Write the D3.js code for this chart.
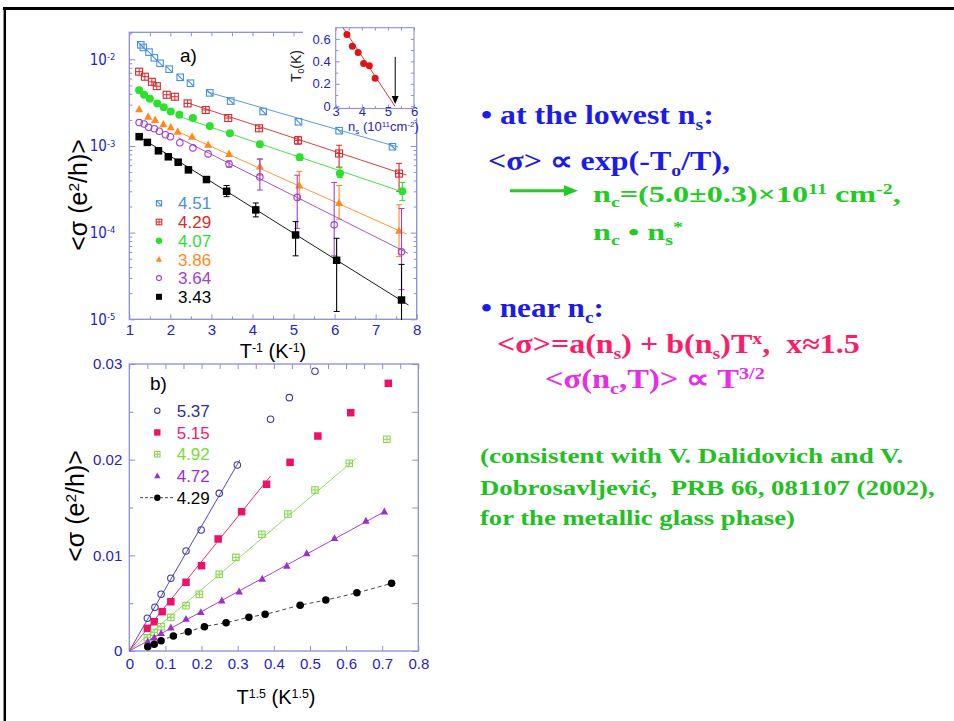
<!DOCTYPE html>
<html>
<head>
<meta charset="utf-8">
<script src="https://cdn.jsdelivr.net/npm/d3@7"></script>
<style>
  body { margin: 0; background: #fff; }
</style>
</head>
<body>
<svg id="chart" width="954" height="721"></svg>
<script>
// ---- panel a: <sigma> (e^2/h) vs T^-1 (K^-1), one pair of arrays per n_s (10^11 cm^-2)
const densA = ["4.51", "4.29", "4.07", "3.86", "3.64", "3.43"]
const invT451 = [1.28, 1.34, 1.48, 1.61, 1.75, 1.97, 2.24, 2.49, 2.96, 3.47, 4.26, 5.12, 6.11, 7.41]
const sig451 = [0.0147, 0.0137, 0.0121, 0.0104, 0.0090, 0.0077, 0.0062, 0.0053, 0.0041, 0.0033, 0.0025, 0.0019, 0.0015, 0.00098]
const invT429 = [1.24, 1.38, 1.55, 1.67, 1.91, 2.11, 2.42, 2.86, 3.41, 4.16, 5.11, 6.11, 7.57]
const sig429 = [0.0072, 0.0063, 0.0055, 0.0049, 0.0039, 0.0037, 0.0031, 0.0026, 0.0021, 0.0016, 0.00116, 0.00082, 0.00048]
const invT407 = [1.24, 1.36, 1.50, 1.68, 1.84, 2.01, 2.22, 2.55, 2.96, 3.45, 4.18, 5.15, 6.13, 7.65]
const sig407 = [0.0044, 0.0039, 0.0035, 0.0031, 0.0028, 0.0025, 0.0023, 0.0021, 0.0017, 0.0014, 0.00105, 0.00074, 0.00048, 0.00030]
const invT386 = [1.24, 1.46, 1.63, 1.83, 2.01, 2.18, 2.53, 2.92, 3.43, 4.18, 5.14, 6.11, 7.57]
const sig386 = [0.00265, 0.00218, 0.0020, 0.00178, 0.00164, 0.00146, 0.00128, 0.00103, 0.00081, 0.00058, 0.00035, 0.00022, 0.000105]
const invT364 = [1.24, 1.36, 1.47, 1.61, 1.73, 1.88, 2.00, 2.23, 2.55, 2.92, 3.43, 4.18, 5.09, 5.99, 7.63]
const sig364 = [0.00186, 0.00179, 0.00164, 0.00158, 0.00148, 0.00135, 0.00128, 0.00109, 0.00095, 0.00081, 0.00062, 0.00044, 0.000255, 0.000123, 0.000060]
const invT343 = [1.24, 1.44, 1.71, 1.95, 2.19, 2.44, 2.88, 3.37, 4.08, 5.05, 6.05, 7.63]
const sig343 = [0.00128, 0.00110, 0.00088, 0.00075, 0.00065, 0.00053, 0.00041, 0.00030, 0.000183, 0.000094, 0.000048, 0.0000167]

// error bars [T^-1, low, high]
const err429 = [[5.11, 0.00105, 0.00129], [6.11, 0.00057, 0.00102], [7.57, 0.0003, 0.00063]]
const err407 = [[5.15, 0.00068, 0.0008], [6.13, 0.00043, 0.00056], [7.65, 0.000234, 0.00038]]
const err386 = [[4.18, 0.00046, 0.0007], [5.14, 0.00024, 0.00051], [6.11, 0.000143, 0.00035], [7.57, 0.000053, 0.00021]]
const err364 = [[3.43, 0.00057, 0.00067], [4.18, 0.00031, 0.00071], [5.09, 0.000112, 0.00046], [5.99, 0.000054, 0.00038], [7.63, 0.000022, 0.00019]]
const err343 = [[3.37, 0.00026, 0.00035], [4.08, 0.000152, 0.00022], [5.05, 0.000054, 0.000134], [6.05, 0.0000123, 0.000086], [7.63, 0.0000098, 0.000043]]

// activated fits, end points [T^-1, sigma]
const fit451 = [[2.9, 0.0042], [7.55, 0.00097]]
const fit429 = [[2.4, 0.00316], [7.75, 0.000462]]
const fit407 = [[2.2, 0.0022], [7.75, 0.000285]]
const fit386 = [[2.2, 0.00145], [7.75, 0.0000966]]
const fit364 = [[2.2, 0.00124], [7.79, 0.0000578]]
const fit343 = [[1.24, 0.00128], [7.8, 0.0000146]]

// inset: T0 vs n_s
const nsInset = [3.43, 3.64, 3.86, 4.07, 4.29, 4.51]
const t0Inset = [0.64, 0.535, 0.48, 0.38, 0.36, 0.25]
const t0Err = [0.02, 0.015, 0.015, 0.015, 0.02, 0.025]
const t0Fit = [[3.28, 0.70], [5.27, 0]]
const ncArrow = [5.28, 0.44, 0.02]

// ---- panel b: <sigma> vs T^1.5 (K^1.5)
const densB = ["5.37", "5.15", "4.92", "4.72", "4.29"]
const t15_537 = [0.050, 0.071, 0.088, 0.115, 0.157, 0.199, 0.249, 0.299, 0.391, 0.443, 0.514]
const sigB537 = [0.00342, 0.00457, 0.00593, 0.0076, 0.01045, 0.01265, 0.01648, 0.01944, 0.02422, 0.02648, 0.02924]
const t15_515 = [0.050, 0.069, 0.091, 0.115, 0.157, 0.200, 0.246, 0.311, 0.380, 0.445, 0.522, 0.613, 0.717]
const sigB515 = [0.00237, 0.00306, 0.00411, 0.00515, 0.00718, 0.00892, 0.01171, 0.01456, 0.01743, 0.01972, 0.02247, 0.02491, 0.02798]
const t15_492 = [0.050, 0.069, 0.088, 0.115, 0.157, 0.194, 0.249, 0.295, 0.367, 0.439, 0.514, 0.609, 0.713]
const sigB492 = [0.00139, 0.00195, 0.00254, 0.00352, 0.00474, 0.00593, 0.00802, 0.00979, 0.0122, 0.01432, 0.01683, 0.01962, 0.02213]
const t15_472 = [0.051, 0.069, 0.088, 0.115, 0.157, 0.198, 0.256, 0.304, 0.368, 0.436, 0.491, 0.568, 0.655, 0.706]
const sigB472 = [0.00097, 0.00139, 0.00185, 0.00244, 0.00334, 0.00405, 0.00526, 0.0062, 0.00753, 0.00889, 0.01021, 0.01178, 0.01359, 0.01456]
const t15_429 = [0.051, 0.069, 0.088, 0.122, 0.163, 0.208, 0.268, 0.331, 0.376, 0.473, 0.544, 0.630, 0.726]
const sigB429 = [0.00045, 0.0007, 0.00108, 0.00157, 0.00202, 0.00254, 0.00296, 0.00352, 0.00384, 0.00478, 0.00533, 0.00609, 0.00708]
const fitB537 = [[0, 0], [0.306, 0.01997]]
const fitB515 = [[0, 0], [0.391, 0.01829]]
const fitB492 = [[0, 0], [0.628, 0.02014]]
const fitB472 = [[0, 0], [0.706, 0.01456]]

// ---- notes on the right
const notes = [
  { color: "#1c1ce6", size: 27, parts: ["\u2022 at the lowest n", ["s", "sub"], ":"] },
  { color: "#1c1ce6", size: 27, parts: ["<\u03c3> \u221d exp(-T", ["o", "sub"], "/T),"] },
  { color: "#22cc22", size: 24, parts: ["n", ["c", "sub"], "=(5.0\u00b10.3)\u00d710", ["11", "sup"], " cm", ["-2", "sup"], ","] },
  { color: "#22cc22", size: 24, parts: ["n", ["c", "sub"], " \u2022 n", ["s", "sub"], ["*", "sup"]] },
  { color: "#1c1ce6", size: 27, parts: ["\u2022 near n", ["c", "sub"], ":"] },
  { color: "#ff1a6a", size: 27, parts: ["<\u03c3>=a(n", ["s", "sub"], ") + b(n", ["s", "sub"], ")T", ["x", "sup"], ",  x\u22481.5"] },
  { color: "#e62ee6", size: 27, parts: ["<\u03c3(n", ["c", "sub"], ",T)> \u221d T", ["3/2", "sup"]] },
  { color: "#22c022", size: 22, parts: ["(consistent with V. Dalidovich and V."] },
  { color: "#22c022", size: 22, parts: ["Dobrosavljevi\u0107,  PRB 66, 081107 (2002),"] },
  { color: "#22c022", size: 22, parts: ["for the metallic glass phase)"] }
]
// [x, baseline, width on the slide]
const notePos = [[481, 124, 233], [488, 170, 242], [593, 202, 308], [593, 240, 90], [481, 317, 123],
  [497, 353, 363], [545, 388, 220], [480, 463, 423], [480, 495, 455], [480, 525, 315]]

const axisColor = "#8d8dd6"
const tickText = "#2323c8"
const sans = "'Liberation Sans', Arial, Helvetica, sans-serif"
const narrow = "'Liberation Sans Narrow', 'Arial Narrow', 'DejaVu Sans Condensed', 'Liberation Sans', sans-serif"
const serif = "'Liberation Serif', 'Times New Roman', serif"

const svg = d3.select("#chart")

// text with sub/superscript pieces
function rich(parent, x, y, size, parts) {
  const t = parent.append("text")
    .attr("x", x).attr("y", y)
    .attr("font-size", size)
    .style("white-space", "pre")
  let shift = 0
  parts.forEach(p => {
    const str = typeof p === "string" ? p : p[0]
    const kind = typeof p === "string" ? null : p[1]
    const target = kind === "sub" ? size * 0.22 : kind === "sup" ? -size * 0.32 : 0
    const ts = t.append("tspan").text(str)
    if (target - shift !== 0) ts.attr("dy", target - shift)
    if (kind) ts.attr("font-size", size * 0.62)
    shift = target
  })
  return t
}

function styleAxis(g, fontSize, family) {
  g.attr("font-family", null).attr("font-size", null)
  g.select(".domain").remove()
  g.selectAll(".tick line").attr("stroke", axisColor).attr("stroke-width", 1)
  g.selectAll(".tick text")
    .attr("fill", tickText)
    .attr("font-family", family || sans)
    .attr("font-size", fontSize)
}

function marker(g, kind, cx, cy, color, s) {
  const h = s / 2
  if (kind === "sqDiag" || kind === "sqPlus") {
    g.append("rect")
      .attr("x", cx - h).attr("y", cy - h)
      .attr("width", s).attr("height", s)
      .attr("fill", "none").attr("stroke", color).attr("stroke-width", 1.1)
    if (kind === "sqDiag") {
      g.append("line").attr("x1", cx - h).attr("y1", cy - h).attr("x2", cx + h).attr("y2", cy + h)
        .attr("stroke", color).attr("stroke-width", 1.1)
    } else {
      g.append("line").attr("x1", cx - h).attr("y1", cy).attr("x2", cx + h).attr("y2", cy)
        .attr("stroke", color).attr("stroke-width", 1)
      g.append("line").attr("x1", cx).attr("y1", cy - h).attr("x2", cx).attr("y2", cy + h)
        .attr("stroke", color).attr("stroke-width", 1)
    }
  } else if (kind === "square") {
    g.append("rect")
      .attr("x", cx - h).attr("y", cy - h)
      .attr("width", s).attr("height", s)
      .attr("fill", color)
  } else if (kind === "circle") {
    g.append("circle").attr("cx", cx).attr("cy", cy).attr("r", h).attr("fill", color)
  } else if (kind === "circleOpen") {
    g.append("circle").attr("cx", cx).attr("cy", cy).attr("r", h - 0.5)
      .attr("fill", "none").attr("stroke", color).attr("stroke-width", 1.1)
  } else if (kind === "triangle") {
    g.append("path")
      .attr("d", `M${cx},${cy - h * 1.1}L${cx + h},${cy + h * 0.75}L${cx - h},${cy + h * 0.75}Z`)
      .attr("fill", color)
  }
}

// slide frame
svg.append("line").attr("x1", 3).attr("x2", 954).attr("y1", 8.5).attr("y2", 8.5)
  .attr("stroke", "#000").attr("stroke-width", 3)
svg.append("line").attr("x1", 4.8).attr("x2", 4.8).attr("y1", 7).attr("y2", 721)
  .attr("stroke", "#000").attr("stroke-width", 2.5)

// ================= panel a =================
const boxA = { left: 129.3, right: 416.7, top: 32.3, bottom: 319.3 }
const xA = d3.scaleLinear().domain([1, 8]).range([boxA.left, boxA.right])
const yA = d3.scaleLog().domain([1e-5, 2.05e-2]).range([boxA.bottom, boxA.top])

const decades = [1e-5, 1e-4, 1e-3, 1e-2]
const minorLog = []
decades.forEach(d => d3.range(2, 10).forEach(m => { if (m * d <= 2.05e-2) minorLog.push(m * d) }))

const gA = svg.append("g")

gA.append("g").attr("transform", `translate(0,${boxA.bottom})`)
  .call(d3.axisBottom(xA).tickValues(d3.range(1, 9)).tickSize(-5).tickPadding(5).tickFormat(d3.format("d")))
  .call(g => styleAxis(g, 15))
gA.append("g").attr("transform", `translate(0,${boxA.bottom})`)
  .call(d3.axisBottom(xA).tickValues(d3.range(1.5, 8, 1)).tickSize(-3).tickFormat(""))
  .call(g => styleAxis(g, 15))
gA.append("g").attr("transform", `translate(0,${boxA.top})`)
  .call(d3.axisTop(xA).tickValues(d3.range(1, 8.01, 0.5)).tickSize(-4).tickFormat(""))
  .call(g => styleAxis(g, 15))

gA.append("g").attr("transform", `translate(${boxA.left},0)`)
  .call(d3.axisLeft(yA).tickValues(decades).tickSize(-6).tickPadding(14).tickFormat(""))
  .call(g => styleAxis(g, 15, narrow))
  .call(g => g.selectAll(".tick text").each(function (d) {
    const t = d3.select(this)
    t.append("tspan").text("10")
    t.append("tspan").attr("dy", "-0.5em").attr("font-size", "0.62em").text(Math.round(Math.log10(d)))
  }))
gA.append("g").attr("transform", `translate(${boxA.left},0)`)
  .call(d3.axisLeft(yA).tickValues(minorLog).tickSize(-3).tickFormat(""))
  .call(g => styleAxis(g, 15))
gA.append("g").attr("transform", `translate(${boxA.right},0)`)
  .call(d3.axisRight(yA).tickValues(decades).tickSize(-6).tickFormat(""))
  .call(g => styleAxis(g, 15))
gA.append("g").attr("transform", `translate(${boxA.right},0)`)
  .call(d3.axisRight(yA).tickValues(minorLog).tickSize(-3).tickFormat(""))
  .call(g => styleAxis(g, 15))

gA.append("rect")
  .attr("x", boxA.left).attr("y", boxA.top)
  .attr("width", boxA.right - boxA.left).attr("height", boxA.bottom - boxA.top)
  .attr("fill", "none").attr("stroke", axisColor).attr("stroke-width", 1.3)

// axis titles
rich(gA, 273, 358, 20, ["T", ["-1", "sup"], " (K", ["-1", "sup"], ")"])
  .attr("text-anchor", "middle").attr("font-family", sans).attr("fill", "#000")
rich(gA, 0, 0, 25, ["<\u03c3 (e", ["2", "sup"], "/h)>"])
  .attr("text-anchor", "middle").attr("font-family", sans).attr("fill", "#000")
  .attr("transform", "translate(87,195) rotate(-90)")
gA.append("text").attr("x", 180).attr("y", 62)
  .attr("font-family", sans).attr("font-size", 19).text("a)")

// inset -- white backing so the main frame is hidden behind it
const boxI = { left: 335.7, right: 414, top: 27.7, bottom: 108.5 }
const xI = d3.scaleLinear().domain([3, 6]).range([boxI.left, boxI.right])
const yI = d3.scaleLinear().domain([-0.02, 0.7]).range([boxI.bottom, boxI.top])

const gI = svg.append("g")
gI.append("rect").attr("x", 303).attr("y", 14).attr("width", 122).attr("height", 104).attr("fill", "#fff")

gI.append("g").attr("transform", `translate(0,${boxI.bottom})`)
  .call(d3.axisBottom(xI).tickValues([3, 4, 5, 6]).tickSize(-4).tickPadding(-2).tickFormat(d3.format("d")))
  .call(g => styleAxis(g, 13))
gI.append("g").attr("transform", `translate(0,${boxI.bottom})`)
  .call(d3.axisBottom(xI).tickValues([3.5, 4.5, 5.5]).tickSize(-2.5).tickFormat(""))
  .call(g => styleAxis(g, 13))
gI.append("g").attr("transform", `translate(0,${boxI.top})`)
  .call(d3.axisTop(xI).tickValues(d3.range(3, 6.01, 0.5)).tickSize(-3).tickFormat(""))
  .call(g => styleAxis(g, 13))
gI.append("g").attr("transform", `translate(${boxI.left},0)`)
  .call(d3.axisLeft(yI).tickValues([0, 0.2, 0.4, 0.6]).tickSize(-4).tickPadding(5).tickFormat(d => d === 0 ? "0" : d3.format(".1f")(d)))
  .call(g => styleAxis(g, 13))
gI.append("g").attr("transform", `translate(${boxI.left},0)`)
  .call(d3.axisLeft(yI).tickValues([0.1, 0.3, 0.5]).tickSize(-2.5).tickFormat(""))
  .call(g => styleAxis(g, 13))
gI.append("g").attr("transform", `translate(${boxI.right},0)`)
  .call(d3.axisRight(yI).tickValues(d3.range(0, 0.61, 0.1)).tickSize(-3).tickFormat(""))
  .call(g => styleAxis(g, 13))
gI.append("rect")
  .attr("x", boxI.left).attr("y", boxI.top)
  .attr("width", boxI.right - boxI.left).attr("height", boxI.bottom - boxI.top)
  .attr("fill", "none").attr("stroke", axisColor).attr("stroke-width", 1.1)

gI.append("line")
  .attr("x1", xI(t0Fit[0][0])).attr("y1", yI(t0Fit[0][1]))
  .attr("x2", xI(t0Fit[1][0])).attr("y2", yI(t0Fit[1][1]))
  .attr("stroke", "#d42020").attr("stroke-width", 0.9)
nsInset.forEach((n, i) => {
  gI.append("line")
    .attr("x1", xI(n)).attr("x2", xI(n))
    .attr("y1", yI(t0Inset[i] - t0Err[i])).attr("y2", yI(t0Inset[i] + t0Err[i]))
    .attr("stroke", "#d42020").attr("stroke-width", 0.9)
  marker(gI, "circle", xI(n), yI(t0Inset[i]), "#e01414", 7)
})
gI.append("line")
  .attr("x1", xI(ncArrow[0])).attr("x2", xI(ncArrow[0]))
  .attr("y1", yI(ncArrow[1])).attr("y2", yI(ncArrow[2]) - 6)
  .attr("stroke", "#000").attr("stroke-width", 1)
gI.append("path")
  .attr("d", `M${xI(ncArrow[0]) - 3.5},${yI(ncArrow[2]) - 8}L${xI(ncArrow[0]) + 3.5},${yI(ncArrow[2]) - 8}L${xI(ncArrow[0])},${yI(ncArrow[2])}Z`)
  .attr("fill", "#000")

rich(gI, 0, 0, 14, ["T", ["0", "sub"], "(K)"])
  .attr("text-anchor", "middle").attr("font-family", sans).attr("fill", "#222")
  .attr("transform", "translate(301,66) rotate(-90)")
rich(gI, 348, 131, 13, ["n", ["s", "sub"], " (10", ["11", "sup"], "cm", ["-2", "sup"], ")"])
  .attr("font-family", sans).attr("fill", tickText)

// main data
const seriesA = [
  { label: densA[0], x: invT451, y: sig451, err: [], fit: fit451, kind: "sqDiag", color: "#4a8fdc", size: 6.5 },
  { label: densA[1], x: invT429, y: sig429, err: err429, fit: fit429, kind: "sqPlus", color: "#d42a2a", size: 7 },
  { label: densA[2], x: invT407, y: sig407, err: err407, fit: fit407, kind: "circle", color: "#2ee02e", size: 8 },
  { label: densA[3], x: invT386, y: sig386, err: err386, fit: fit386, kind: "triangle", color: "#ff8a1c", size: 8 },
  { label: densA[4], x: invT364, y: sig364, err: err364, fit: fit364, kind: "circleOpen", color: "#a23ed0", size: 7.5 },
  { label: densA[5], x: invT343, y: sig343, err: err343, fit: fit343, kind: "square", color: "#000", size: 7.5 }
]

const dataA = svg.append("g")
seriesA.forEach(s => {
  dataA.append("path")
    .attr("d", d3.line().x(d => xA(d[0])).y(d => yA(d[1]))(s.fit))
    .attr("fill", "none").attr("stroke", s.color).attr("stroke-width", 0.9)
  s.err.forEach(e => {
    const ex = xA(e[0])
    dataA.append("line").attr("x1", ex).attr("x2", ex).attr("y1", yA(e[1])).attr("y2", yA(e[2]))
      .attr("stroke", s.color).attr("stroke-width", 1.1)
    ;[e[1], e[2]].forEach(v => {
      if (v <= 1.0e-5) return
      dataA.append("line").attr("x1", ex - 3).attr("x2", ex + 3).attr("y1", yA(v)).attr("y2", yA(v))
        .attr("stroke", s.color).attr("stroke-width", 1)
    })
  })
  s.x.forEach((xv, i) => marker(dataA, s.kind, xA(xv), yA(s.y[i]), s.color, s.size))
})

// legend a
const legendA = svg.append("g").attr("font-family", sans).attr("font-size", 17)
seriesA.forEach((s, i) => {
  const ly = 203.3 + i * 18.7
  marker(legendA, s.kind, 159, ly, s.color, s.size * 0.8)
  legendA.append("text").attr("x", 178).attr("y", ly).attr("dy", "0.36em")
    .attr("fill", s.color).text(s.label)
})

// ================= panel b =================
const boxB = { left: 129.3, right: 418.3, top: 364, bottom: 651 }
const xB = d3.scaleLinear().domain([0, 0.8]).range([boxB.left, boxB.right])
const yB = d3.scaleLinear().domain([0, 0.03]).range([boxB.bottom, boxB.top])

const gB = svg.append("g")
gB.append("g").attr("transform", `translate(0,${boxB.bottom})`)
  .call(d3.axisBottom(xB).tickValues(d3.range(0, 0.81, 0.1)).tickSize(-5).tickPadding(7)
    .tickFormat(d => d === 0 ? "0" : d3.format(".1f")(d)))
  .call(g => styleAxis(g, 15))
gB.append("g").attr("transform", `translate(0,${boxB.top})`)
  .call(d3.axisTop(xB).tickValues(d3.range(0, 0.801, 0.05)).tickSize(-5).tickFormat(""))
  .call(g => styleAxis(g, 15))
gB.append("g").attr("transform", `translate(${boxB.left},0)`)
  .call(d3.axisLeft(yB).tickValues([0, 0.01, 0.02, 0.03]).tickSize(-6).tickPadding(7)
    .tickFormat(d => d === 0 ? "0" : d3.format(".2f")(d)))
  .call(g => styleAxis(g, 15))
gB.append("g").attr("transform", `translate(${boxB.left},0)`)
  .call(d3.axisLeft(yB).tickValues([0.005, 0.015, 0.025]).tickSize(-4).tickFormat(""))
  .call(g => styleAxis(g, 15))
gB.append("g").attr("transform", `translate(${boxB.right},0)`)
  .call(d3.axisRight(yB).tickValues(d3.range(0, 0.0301, 0.005)).tickSize(-6).tickFormat(""))
  .call(g => styleAxis(g, 15))
gB.append("rect")
  .attr("x", boxB.left).attr("y", boxB.top)
  .attr("width", boxB.right - boxB.left).attr("height", boxB.bottom - boxB.top)
  .attr("fill", "none").attr("stroke", axisColor).attr("stroke-width", 1.3)

rich(gB, 276, 704, 20, ["T", ["1.5", "sup"], " (K", ["1.5", "sup"], ")"])
  .attr("text-anchor", "middle").attr("font-family", sans).attr("fill", "#000")
rich(gB, 0, 0, 25, ["<\u03c3 (e", ["2", "sup"], "/h)>"])
  .attr("text-anchor", "middle").attr("font-family", sans).attr("fill", "#000")
  .attr("transform", "translate(84,506) rotate(-90)")
gB.append("text").attr("x", 150).attr("y", 389.5)
  .attr("font-family", sans).attr("font-size", 19).text("b)")

const seriesB = [
  { label: densB[0], x: t15_537, y: sigB537, fit: fitB537, kind: "circleOpen", color: "#3a3aaa", text: "#2b2bb5", size: 7.5 },
  { label: densB[1], x: t15_515, y: sigB515, fit: fitB515, kind: "square", color: "#ee1166", text: "#ee2266", size: 7.5 },
  { label: densB[2], x: t15_492, y: sigB492, fit: fitB492, kind: "sqPlus", color: "#88d850", text: "#77dd33", size: 6.5 },
  { label: densB[3], x: t15_472, y: sigB472, fit: fitB472, kind: "triangle", color: "#9a2ed0", text: "#9a2ed0", size: 7.5 },
  { label: densB[4], x: t15_429, y: sigB429, fit: null, kind: "circle", color: "#000", text: "#000", size: 7.5 }
]

const dataB = svg.append("g")
seriesB.forEach(s => {
  if (s.fit) {
    dataB.append("path")
      .attr("d", d3.line().x(d => xB(d[0])).y(d => yB(d[1]))(s.fit))
      .attr("fill", "none").attr("stroke", s.color).attr("stroke-width", 0.9)
  } else {
    // 4.29 joined by a dashed curve through the points
    dataB.append("path")
      .attr("d", d3.line().curve(d3.curveMonotoneX).x(d => xB(d[0])).y(d => yB(d[1]))(s.x.map((v, i) => [v, s.y[i]])))
      .attr("fill", "none").attr("stroke", "#333").attr("stroke-width", 0.9)
      .attr("stroke-dasharray", "4,3")
  }
  s.x.forEach((xv, i) => marker(dataB, s.kind, xB(xv), yB(s.y[i]), s.color, s.size))
})

const legendB = svg.append("g").attr("font-family", sans).attr("font-size", 17)
seriesB.forEach((s, i) => {
  const ly = 410.7 + i * 21.75
  if (!s.fit) {
    legendB.append("line").attr("x1", 140).attr("x2", 174).attr("y1", ly).attr("y2", ly)
      .attr("stroke", "#333").attr("stroke-width", 0.9).attr("stroke-dasharray", "3,2")
  }
  marker(legendB, s.kind, 157.3, ly, s.color, s.size * 0.85)
  legendB.append("text").attr("x", 176.7).attr("y", ly).attr("dy", "0.36em")
    .attr("fill", s.text).text(s.label)
})

// ================= notes =================
// the slide text is set wide, so each line is stretched to the width it has there
const gN = svg.append("g").attr("font-family", serif).attr("font-weight", "bold")
notes.forEach((n, i) => {
  const [nx, ny, nw] = notePos[i]
  const t = rich(gN, nx, ny, n.size, n.parts).attr("fill", n.color)
  const w = t.node().getComputedTextLength()
  if (w > 0) t.attr("transform", `translate(${nx},0) scale(${nw / w},1) translate(${-nx},0)`)
})
// green arrow
gN.append("line").attr("x1", 510).attr("x2", 566).attr("y1", 190.7).attr("y2", 190.7)
  .attr("stroke", "#22cc22").attr("stroke-width", 3)
gN.append("path").attr("d", "M564,185.2L578,190.7L564,196.2Z").attr("fill", "#22cc22")
</script>
</body>
</html>
